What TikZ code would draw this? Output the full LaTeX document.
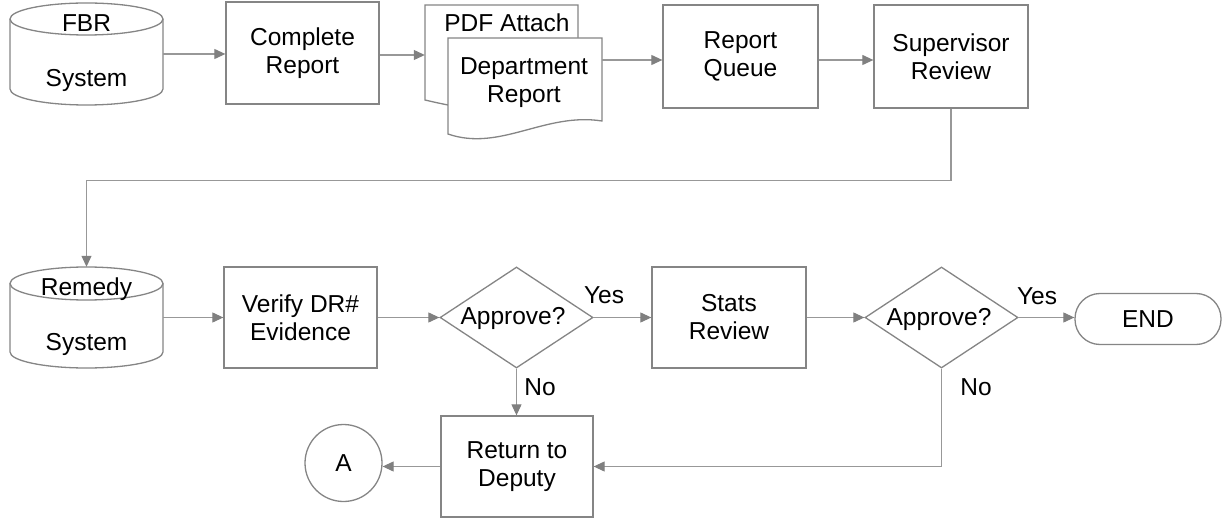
\documentclass[tikz,border=0pt]{standalone}
\usepackage{fontspec}
\setmainfont{Liberation Sans}
\usetikzlibrary{arrows.meta,shapes.geometric,calc}
\definecolor{lg}{HTML}{858585}
\definecolor{cg}{HTML}{989898}
\definecolor{ag}{HTML}{808080}
\newcommand\figfont{\fontsize{24.5}{28}\selectfont}
\begin{document}
\begin{tikzpicture}[x=1pt,y=-1pt,
  shp/.style={draw=lg, line width=1.3pt, fill=white},
  box/.style={shp, minimum width=153pt, minimum height=101pt, inner sep=0pt, align=center, font=\figfont},
  txt/.style={align=center, font=\figfont, inner sep=0pt},
  ghost/.style={inner sep=0pt, minimum width=153pt, minimum height=101pt},
  conn/.style={draw=cg, line width=1.1pt},
  arr/.style={conn, -{Triangle[length=11pt,width=10pt,fill=ag,color=ag]}}
]
\useasboundingbox (0,0) rectangle (1222,518);

% ---- row 1 ----
% FBR cylinder
\node[ghost, minimum height=102pt] (fbr) at (86.5,54) {};
\draw[shp] (10,19) -- (10,89) arc[start angle=180, end angle=0, x radius=76.5, y radius=16] -- (163,19);
\draw[shp] (86.5,19) ellipse [x radius=76.5, y radius=16];
\node[txt, anchor=base] (fbrt) at (86.5,32) {FBR};
\node[txt, anchor=base] (fbrs) at (86.5,87) {System};

\node[box, minimum height=102pt] (comp) at (302.5,53) {Complete\\Report};

% documents
\node[ghost, minimum width=153pt, minimum height=96pt] (pdf) at (501.5,52.5) {};
\draw[shp] (425,5) -- (578,5) -- (578,95) -- (448,105) .. controls (438,103) .. (425,100) -- cycle;
\node[txt, anchor=base] (pdft) at (507,32) {PDF Attach};
\node[ghost, minimum width=154pt, minimum height=96pt] (dept) at (525,86) {};
\draw[shp] (448,38) -- (602,38) -- (602,121) .. controls (545,112) and (500,152) .. (448,134) -- cycle;
\node[txt] (deptt) at (524,83) {Department\\Report};

\node[box, minimum width=155pt, minimum height=103pt] (queue) at (740.5,56.5) {Report\\Queue};
\node[box, minimum width=154pt, minimum height=103pt] (sup) at (951,56.5) {Supervisor\\Review};

% ---- row 2 ----
\node[ghost] (rem) at (86.5,317.5) {};
\draw[shp] (10,283.5) -- (10,352) arc[start angle=180, end angle=0, x radius=76.5, y radius=16] -- (163,283.5);
\draw[shp] (86.5,283.5) ellipse [x radius=76.5, y radius=16.5];
\node[txt, anchor=base] (remt) at (86.5,295) {Remedy};
\node[txt, anchor=base] (rems) at (86.5,350) {System};

\node[box] (ver) at (300.5,317.5) {Verify DR\#\\Evidence};

\node[diamond, shp, minimum width=153pt, minimum height=101pt, inner sep=0pt] (ap1) at (516.5,317.5) {};
\node[txt] (ap1t) at (513,318) {Approve?};

\node[box, minimum width=154pt] (stats) at (729,317.5) {Stats\\Review};

\node[diamond, shp, minimum width=153pt, minimum height=101pt, inner sep=0pt] (ap2) at (941.5,317.5) {};
\node[txt] (ap2t) at (939,319) {Approve?};

\node[shp, rounded corners=25pt, minimum width=146pt, minimum height=51pt, inner sep=0pt, font=\figfont] (end) at (1148,319) {END};

\node[box, minimum width=152pt] (ret) at (517,466.5) {Return to\\Deputy};
\node[shp, circle, minimum size=77pt, inner sep=0pt, font=\figfont] (a) at (343.5,463) {A};

% labels
\node[txt, anchor=base] (y1) at (604,303) {Yes};
\node[txt, anchor=base] (y2) at (1037,305) {Yes};
\node[txt, anchor=base] (n1) at (540,395) {No};
\node[txt, anchor=base] (n2) at (976,395) {No};

% ---- connectors ----
\draw[arr] (fbr.east) -- (fbr.east -| comp.west);
\draw[arr] ([yshift=-2pt]comp.east) -- ([yshift=-2pt]comp.east -| pdf.west);
\draw[arr] ([yshift=-3.5pt]queue.west -| dept.east) -- ([yshift=-3.5pt]queue.west);
\draw[arr] ([yshift=-3.5pt]queue.east) -- ([yshift=-3.5pt]sup.west);
\draw[arr] (sup.south) -- ++(0,72) -| (rem.north);
\draw[arr] (rem.east) -- (ver.west);
\draw[arr] (ver.east) -- (ap1.west);
\draw[arr] (ap1.east) -- (stats.west);
\draw[arr] (stats.east) -- (ap2.west);
\draw[arr] (ap2.east) -- (ap2.east -| end.west);
\draw[arr] (ap1.south) -- (ap1.south |- ret.north);
\draw[arr] (ap2.south) |- (ret.east);
\draw[arr] (ret.west) -- (ret.west -| a.east);
\end{tikzpicture}
\end{document}
